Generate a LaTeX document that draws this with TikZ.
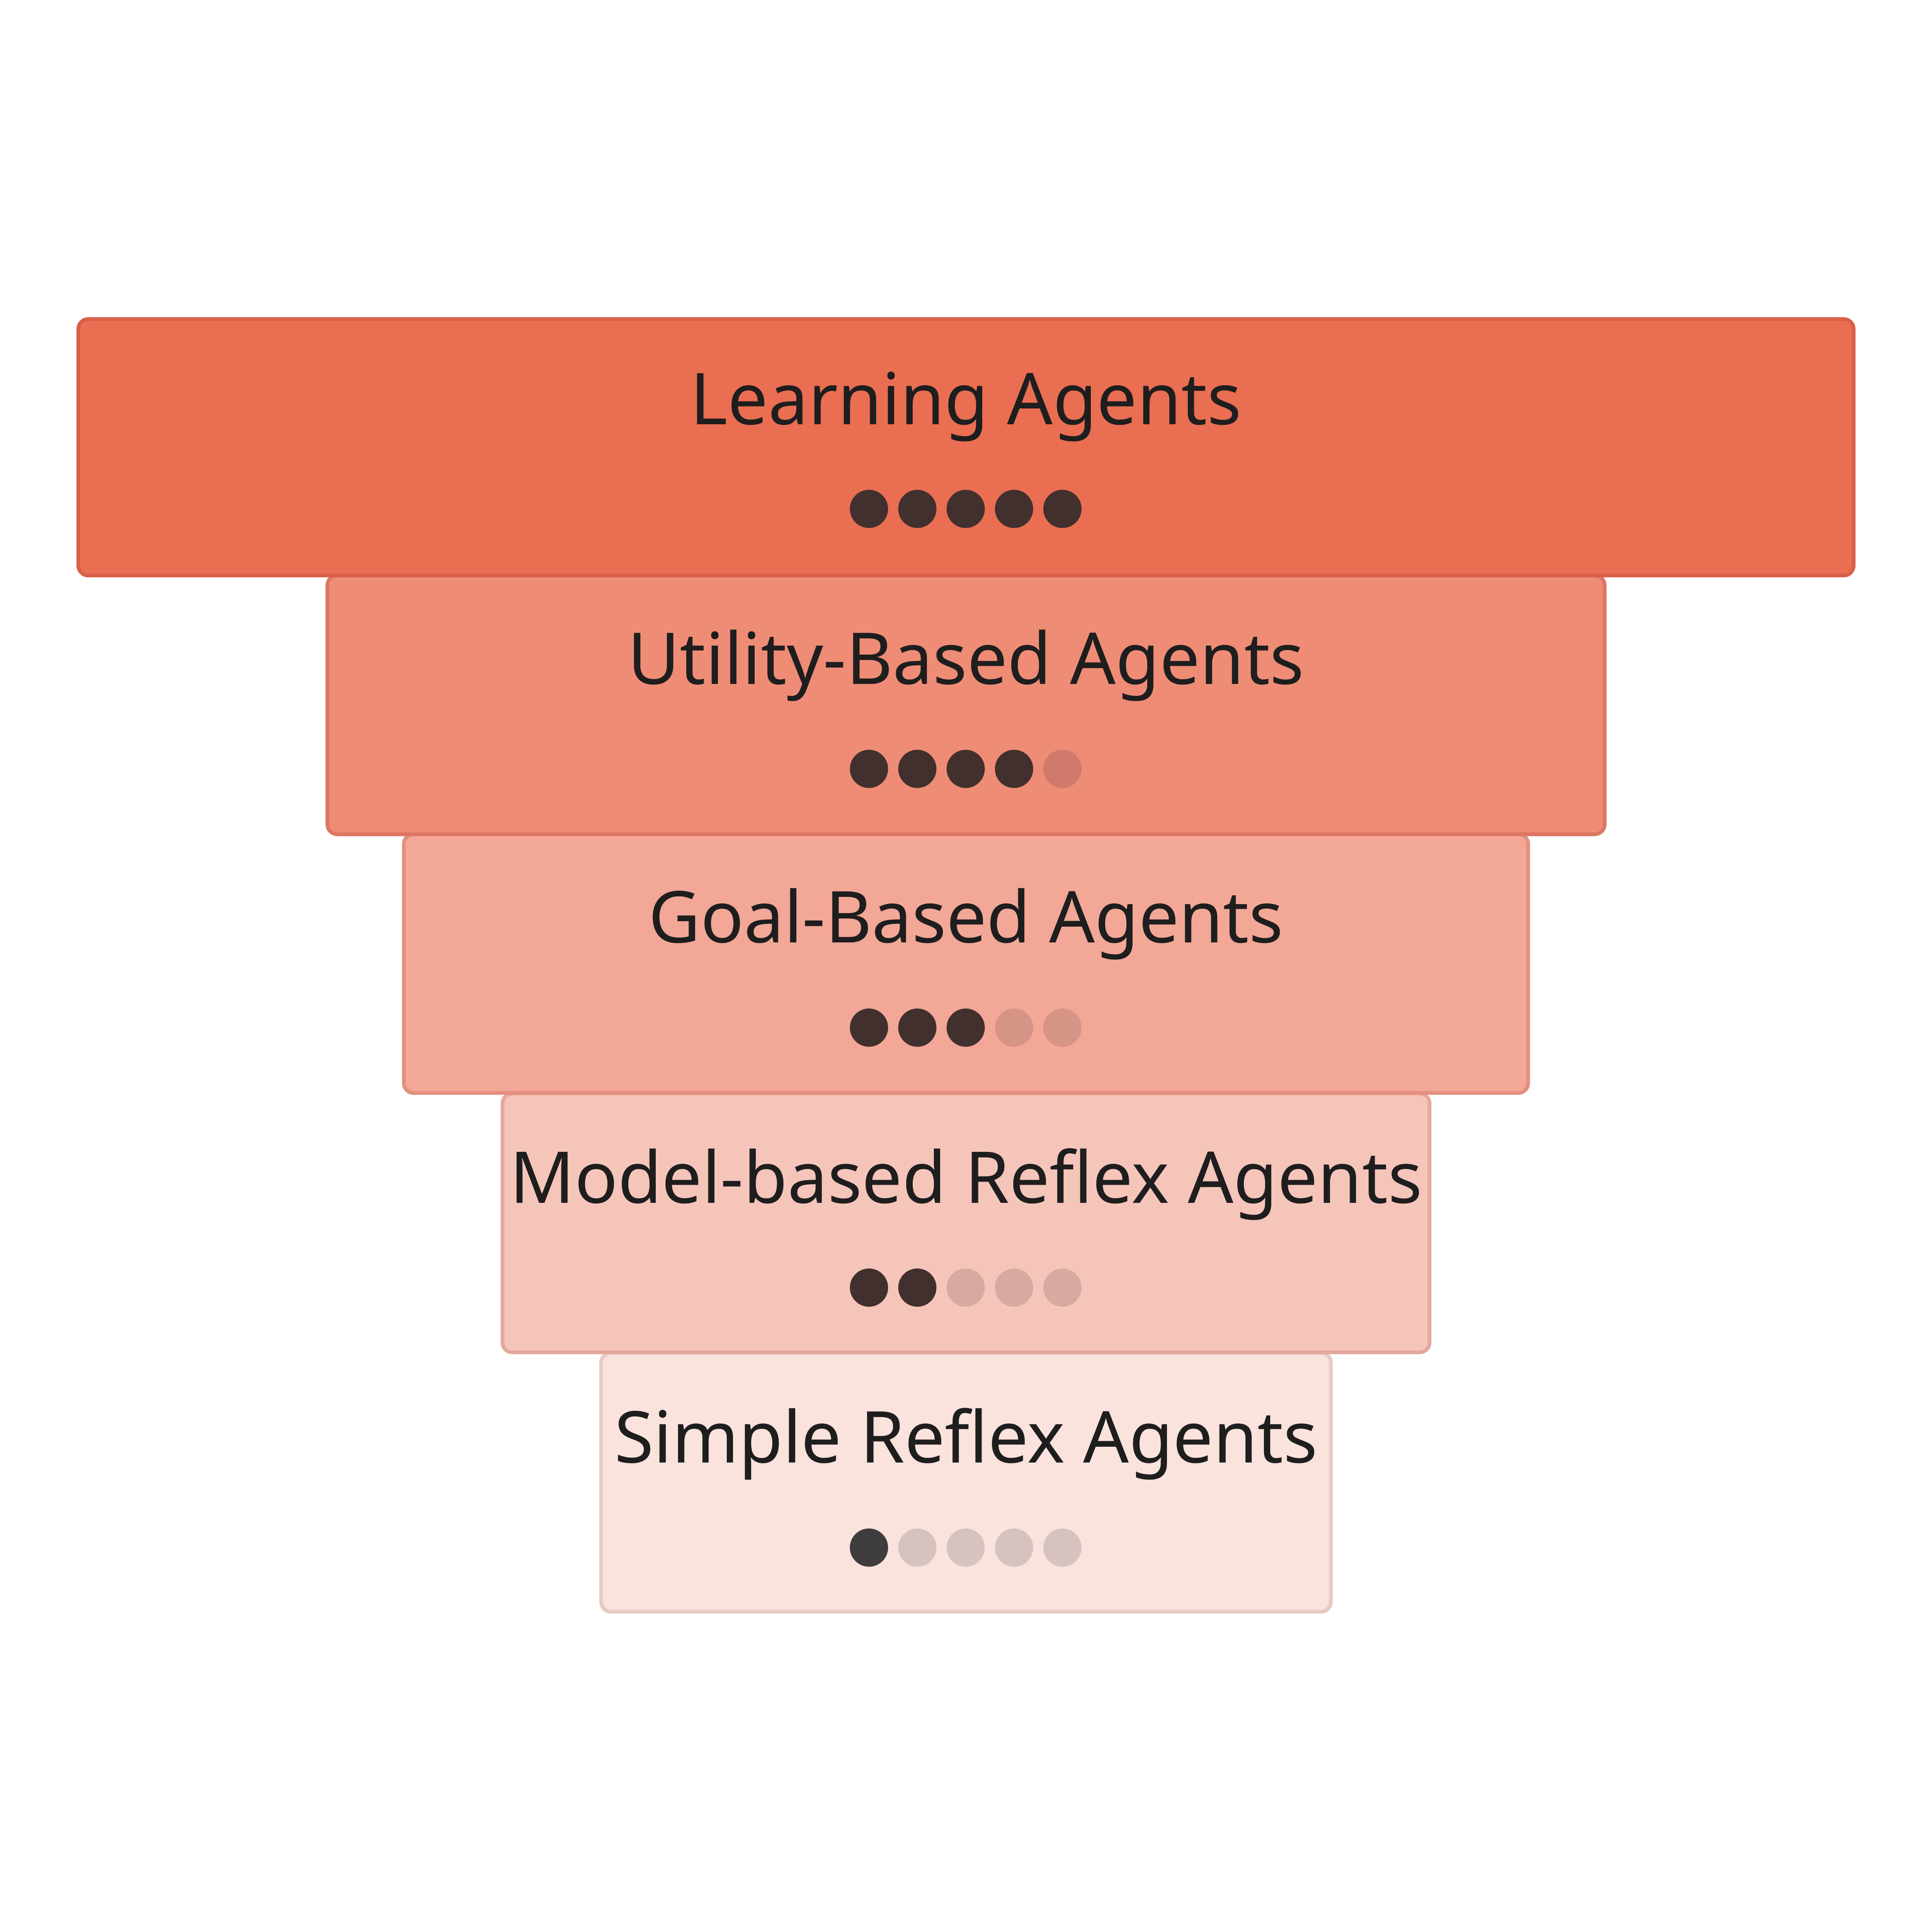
\documentclass[tikz,border=0pt]{standalone}
\usepackage{fontspec}
\setmainfont{Noto Sans}
\definecolor{txt}{HTML}{1E1E1E}
\definecolor{fA}{HTML}{EA6E52}\definecolor{bA}{HTML}{D95F48}
\definecolor{fB}{HTML}{EF8C76}\definecolor{bB}{HTML}{DE7664}
\definecolor{fC}{HTML}{F2A797}\definecolor{bC}{HTML}{E38F80}
\definecolor{fD}{HTML}{F6C5BA}\definecolor{bD}{HTML}{E4A89D}
\definecolor{fE}{HTML}{FAE2DD}\definecolor{bE}{HTML}{E8CAC4}
\definecolor{dark}{HTML}{42302E}
\definecolor{darkE}{HTML}{3E3C3D}
\definecolor{oB}{HTML}{CF7A6A}\definecolor{oC}{HTML}{D69486}
\definecolor{oD}{HTML}{D8A9A0}\definecolor{oE}{HTML}{D6C3C0}
\tikzset{tier/.style={rectangle,rounded corners=0.08cm,line width=0.85pt,inner sep=0pt,outer sep=0pt,minimum height=2.1cm},
 lbl/.style={text=txt,font=\fontsize{16.5}{20}\selectfont,inner sep=0pt},
 dot/.style={circle,minimum size=0.31cm,inner sep=0pt,fill=#1}}
\begin{document}
\begin{tikzpicture}[x=0.01cm,y=-0.01cm]
\useasboundingbox (0,0) rectangle (1568,1568);
\node[tier,fill=fE,draw=bE,minimum width=5.92cm] (t5) at (784,1203) {};
\node[tier,fill=fD,draw=bD,minimum width=7.52cm] (t4) at (784,992.5) {};
\node[tier,fill=fC,draw=bC,minimum width=9.12cm] (t3) at (784,782) {};
\node[tier,fill=fB,draw=bB,minimum width=10.36cm] (t2) at (784,572) {};
\node[tier,fill=fA,draw=bA,minimum width=14.4cm,minimum height=2.08cm] (t1) at (784,363) {};
\node[lbl] (l1) at (784,330) {Learning Agents};
\node[lbl] (l2) at (784,540) {Utility-Based Agents};
\node[lbl] (l3) at (784,750) {Goal-Based Agents};
\node[lbl] (l4) at (784,961) {Model-based Reflex Agents};
\node[lbl] (l5) at (784,1172) {Simple Reflex Agents};
\foreach \i/\c in {1/dark,2/dark,3/dark,4/dark,5/dark}{\node[dot=\c] (a\i) at ({666+39.25*\i},413) {};}
\foreach \i/\c in {1/dark,2/dark,3/dark,4/dark,5/oB}{\node[dot=\c] (b\i) at ({666+39.25*\i},624) {};}
\foreach \i/\c in {1/dark,2/dark,3/dark,4/oC,5/oC}{\node[dot=\c] (c\i) at ({666+39.25*\i},834) {};}
\foreach \i/\c in {1/dark,2/dark,3/oD,4/oD,5/oD}{\node[dot=\c] (d\i) at ({666+39.25*\i},1045) {};}
\foreach \i/\c in {1/darkE,2/oE,3/oE,4/oE,5/oE}{\node[dot=\c] (e\i) at ({666+39.25*\i},1256) {};}
\end{tikzpicture}
\end{document}
